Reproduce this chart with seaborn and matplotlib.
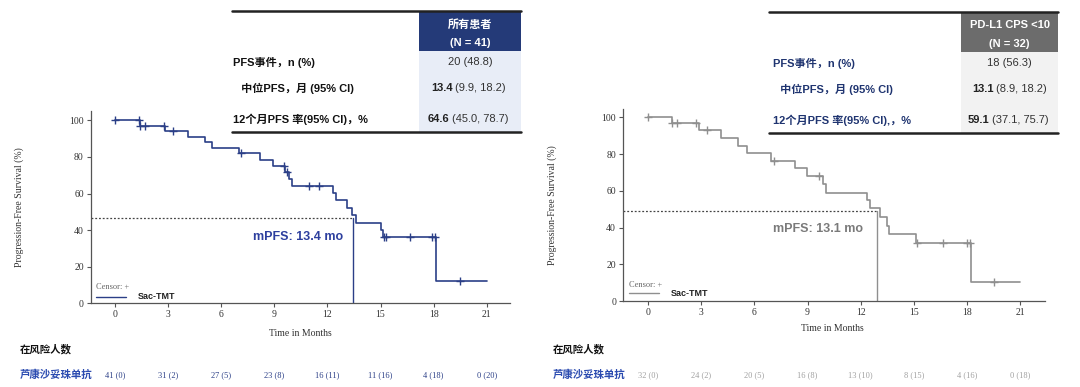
import numpy as np
import pandas as pd
import matplotlib
matplotlib.use("Agg")
import matplotlib.pyplot as plt
from matplotlib.patches import Rectangle
import seaborn as sns

# KM 曲线数据
left_times = [0, 1.4, 2.85, 4.1, 5.1, 5.5, 7.0, 8.2, 8.95, 9.6, 9.85, 10.0, 12.3, 12.5,
              13.1, 13.4, 13.6, 15.0, 15.15, 18.15, 21.0]
left_surv = [100, 97.1, 94.2, 91.1, 88.0, 84.9, 82.0, 78.3, 75.0, 71.6, 68.0, 64.3, 60.1, 56.5,
             52.3, 48.3, 44.1, 40.1, 36.4, 12.2, 12.2]
left_censor = [0, 1.33, 1.42, 1.7, 2.75, 3.3, 7.1, 9.55, 9.7, 10.95, 11.5, 15.2, 15.3,
               16.65, 17.9, 18.05, 19.5]

right_times = [0, 1.35, 2.88, 4.14, 5.08, 5.56, 6.93, 8.29, 8.95, 9.89, 10.07, 12.33, 12.52,
               13.1, 13.46, 13.6, 15.1, 18.25, 21.0]
right_surv = [100, 96.9, 93.0, 88.7, 84.6, 80.8, 76.4, 72.2, 68.1, 63.7, 59.0, 55.0, 50.5,
              45.5, 40.8, 36.3, 31.4, 10.5, 10.5]
right_censor = [0, 1.38, 1.64, 2.73, 3.35, 7.1, 9.66, 15.2, 16.67, 18.0, 18.18, 19.5]

left_median = (13.45, 46.4)
right_median = (12.94, 49.2)

risk_months = [0, 3, 6, 9, 12, 15, 18, 21]
left_risk = ["41 (0)", "31 (2)", "27 (5)", "23 (8)", "16 (11)", "11 (16)", "4 (18)", "0 (20)"]
right_risk = ["32 (0)", "24 (2)", "20 (5)", "16 (8)", "13 (10)", "8 (15)", "4 (16)", "0 (18)"]

row_labels = ["PFS事件，n (%)", " 中位PFS，月 (95% CI)", "12个月PFS 率(95% CI)，%"]
right_row_labels = ["PFS事件，n (%)", " 中位PFS，月 (95% CI)", "12个月PFS 率(95% CI),，%"]
left_header = ["所有患者", "(N = 41)"]
right_header = ["PD-L1 CPS <10", "(N = 32)"]
left_vals = [("", "20 (48.8)"), ("13.4", "(9.9, 18.2)"), ("64.6", "(45.0, 78.7)")]
right_vals = [("", "18 (56.3)"), ("13.1", "(8.9, 18.2)"), ("59.1", "(37.1, 75.7)")]

sns.set_theme(style="ticks")
SANS = ["Liberation Sans", "Noto Sans CJK SC", "DejaVu Sans"]
SERIF = ["Liberation Serif", "DejaVu Serif"]
plt.rcParams["font.family"] = SANS

NAVY = "#2b3f87"
GREY = "#8f8f8f"

fig = plt.figure(figsize=(10.8, 3.87), dpi=100)


def km_panel(rect, xlim, ylim, times, surv, censor, median, color, text_color,
             mtext, mpos, legend_y):
    ax = fig.add_axes(rect)
    df = pd.DataFrame({"t": times, "s": surv})
    sns.lineplot(data=df, x="t", y="s", drawstyle="steps-post", estimator=None,
                 color=color, lw=1.2, ax=ax)
    t_arr = np.array(times)
    s_arr = np.array(surv)
    idx = np.searchsorted(t_arr, censor, side="right") - 1
    cdf = pd.DataFrame({"t": censor, "s": s_arr[idx]})
    sns.scatterplot(data=cdf, x="t", y="s", marker="+", s=35, color=color,
                    linewidth=1.0, ax=ax, zorder=3)
    mx, my = median
    ax.plot([xlim[0], mx], [my, my], ls=(0, (1.5, 1.5)), color="#444444", lw=0.9)
    ax.plot([mx, mx], [0, my], color=color, lw=1.0)
    ax.text(mpos[0], mpos[1], mtext, color=text_color, fontsize=9, fontweight="bold",
            va="center", ha="left")
    # 图例
    ax.text(-1.09, legend_y[0], "Censor: +", family=SERIF, fontsize=6, color="#666666",
            va="center")
    ax.plot([-1.09, 0.6], [legend_y[1], legend_y[1]], color=color, lw=1.0)
    ax.text(1.3, legend_y[1], "Sac-TMT", fontsize=6.5, fontweight="bold", color="#222222",
            va="center")
    ax.set_xlim(*xlim)
    ax.set_ylim(*ylim)
    ax.set_xticks(range(0, 22, 3))
    ax.set_yticks(range(0, 101, 20))
    sns.despine(ax=ax)
    for sp in ["left", "bottom"]:
        ax.spines[sp].set_color("#555555")
        ax.spines[sp].set_linewidth(0.9)
    ax.tick_params(length=3, width=0.8, color="#555555", labelsize=7, pad=2)
    for lab in ax.get_xticklabels() + ax.get_yticklabels():
        lab.set_family(SERIF)
        lab.set_color("#333333")
    ax.set_xlabel("Time in Months", family=SERIF, fontsize=7, color="#333333")
    ax.set_ylabel("Progression-Free Survival (%)", family=SERIF, fontsize=7, color="#333333")
    return ax


axl = km_panel([0.084, 0.2163, 0.388, 0.4964], (-1.37, 22.3), (0, 105),
               left_times, left_surv, left_censor, left_median, NAVY, "#2d3f9e",
               "mPFS: 13.4 mo", (7.8, 36.4), (8.7, 3.6))
axl.yaxis.set_label_coords(-0.16, 0.5)
axl.xaxis.set_label_coords(0.5, -0.135)

axr = km_panel([0.5769, 0.2222, 0.3907, 0.496], (-1.41, 22.4), (0, 104.5),
               right_times, right_surv, right_censor, right_median, GREY, "#7a7a7a",
               "mPFS: 13.1 mo", (7.05, 39.0), (8.7, 4.2))
axr.yaxis.set_label_coords(-0.157, 0.5)
axr.xaxis.set_label_coords(0.497, -0.12)

# 叠加层：表格与风险人数（像素坐标）
ov = fig.add_axes([0, 0, 1, 1], zorder=10)
ov.set_xlim(0, 1080)
ov.set_ylim(387, 0)
ov.axis("off")
renderer = fig.canvas.get_renderer()


def summary_table(x0, x1, xc, top, hdr_color, body_color, labels, lab_color, header, vals,
                  label_x, bold_x):
    ov.add_patch(Rectangle((x0, top), x1 - x0, 121, facecolor="white", edgecolor="none"))
    ov.add_patch(Rectangle((xc, top), x1 - xc, 40, facecolor=hdr_color, edgecolor="none"))
    ov.add_patch(Rectangle((xc, top + 40), x1 - xc, 81, facecolor=body_color, edgecolor="none"))
    ov.plot([x0, x1], [top, top], color="#222222", lw=1.8)
    ov.plot([x0, x1], [top + 121, top + 121], color="#222222", lw=1.8)
    cx = (xc + x1) / 2
    ov.text(cx, top + 13, header[0], color="white", fontsize=8, fontweight="bold",
            ha="center", va="center")
    ov.text(cx, top + 32, header[1], color="white", fontsize=8, fontweight="bold",
            ha="center", va="center")
    ys = [top + 51, top + 77, top + 108]
    for i, (lab, y) in enumerate(zip(labels, ys)):
        ov.text(label_x[i], y, lab, color=lab_color, fontsize=8, fontweight="bold",
                ha="left", va="center")
        b, r = vals[i]
        if b:
            tb = ov.text(bold_x[i], y, b, color="#222222", fontsize=8, fontweight="bold",
                         ha="left", va="center")
            bb = tb.get_window_extent(renderer)
            ov.text(bb.x1 + 2.5, y, r, color="#333333", fontsize=8, ha="left", va="center")
        else:
            ov.text(cx, y, r, color="#333333", fontsize=8, ha="center", va="center")


summary_table(232, 521, 419, 11, "#243a78", "#e8edf7", row_labels, "#111111", left_header,
              left_vals, [233, 238, 233], [431, 431, 428])
summary_table(769, 1058, 961, 12, "#6c6c6c", "#f2f2f2", right_row_labels, "#1f3470",
              right_header, right_vals, [773, 777, 773], [972, 972, 968])

# 风险人数
for x0, ax, vals, col in [(20, axl, left_risk, NAVY), (553, axr, right_risk, "#a0a0a0")]:
    ov.text(x0, 349, "在风险人数", color="#111111", fontsize=7.5, fontweight="bold",
            ha="left", va="center")
    ov.text(x0, 375, "芦康沙妥珠单抗", color="#2b4bb0", fontsize=7.5, fontweight="bold",
            ha="left", va="center")
    for m, v in zip(risk_months, vals):
        px = ax.transData.transform((m, 0))[0]
        ov.text(px, 375, v, color=col, family=SERIF, fontsize=6, ha="center", va="center")

fig.savefig("out.png", dpi=100)
